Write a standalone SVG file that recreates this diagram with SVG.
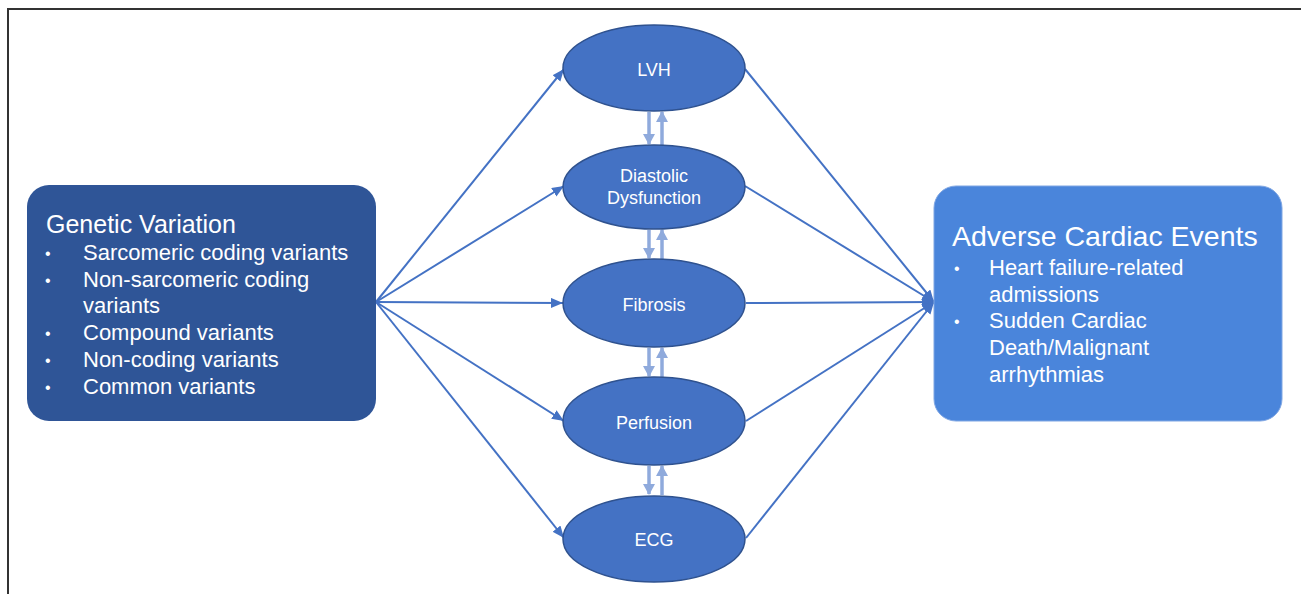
<svg xmlns="http://www.w3.org/2000/svg" width="1301" height="594" viewBox="0 0 1301 594">
<defs>
<style>
.t{font-family:"Liberation Sans",Arial,sans-serif;fill:#fff}
.ell{fill:#4472C4;stroke:#2F528F;stroke-width:1.5}
.ec{font-size:18px;text-anchor:middle}
.con{stroke:#4472C4;stroke-width:2;fill:none}
.vc{stroke:#8FAADC;stroke-width:3.5;fill:none}
.bl{font-size:22px}
.bu{font-size:16px}
</style>
<marker id="ah" markerUnits="userSpaceOnUse" markerWidth="14" markerHeight="12" refX="12" refY="5" orient="auto">
<path d="M0,0 L12,5 L0,10 Z" fill="#4472C4"/>
</marker>
<marker id="va" markerUnits="userSpaceOnUse" markerWidth="14" markerHeight="14" refX="10" refY="6" orient="auto">
<path d="M0,0 L11,6 L0,12 Z" fill="#8FAADC"/>
</marker>
</defs>
<rect width="1301" height="594" fill="#fff"/>
<path d="M8,594 V9 H1301" fill="none" stroke="#333" stroke-width="2"/>

<g id="connectors">
<line class="con" x1="376" y1="302" x2="564" y2="69" marker-end="url(#ah)"/>
<line class="con" x1="376" y1="302" x2="564" y2="186" marker-end="url(#ah)"/>
<line class="con" x1="376" y1="302" x2="563" y2="303" marker-end="url(#ah)"/>
<line class="con" x1="376" y1="302" x2="564" y2="421" marker-end="url(#ah)"/>
<line class="con" x1="376" y1="302" x2="564" y2="538" marker-end="url(#ah)"/>
<line class="con" x1="745" y1="69" x2="934" y2="302" marker-end="url(#ah)"/>
<line class="con" x1="745" y1="186" x2="934" y2="302" marker-end="url(#ah)"/>
<line class="con" x1="746" y1="303" x2="934" y2="302" marker-end="url(#ah)"/>
<line class="con" x1="746" y1="421" x2="934" y2="302" marker-end="url(#ah)"/>
<line class="con" x1="746" y1="538" x2="934" y2="302" marker-end="url(#ah)"/>
<line class="vc" x1="649" y1="112" x2="649" y2="144" marker-end="url(#va)"/>
<line class="vc" x1="662" y1="145" x2="662" y2="112" marker-end="url(#va)"/>
<line class="vc" x1="649" y1="230" x2="649" y2="258" marker-end="url(#va)"/>
<line class="vc" x1="662" y1="259" x2="662" y2="230" marker-end="url(#va)"/>
<line class="vc" x1="649" y1="348" x2="649" y2="376" marker-end="url(#va)"/>
<line class="vc" x1="662" y1="377" x2="662" y2="348" marker-end="url(#va)"/>
<line class="vc" x1="649" y1="466" x2="649" y2="494" marker-end="url(#va)"/>
<line class="vc" x1="662" y1="495" x2="662" y2="466" marker-end="url(#va)"/>
</g>

<g id="genetic">
<rect x="27" y="185" width="349" height="236" rx="22" fill="#2F5597"/>
<text class="t" x="46" y="233" font-size="25">Genetic Variation</text>
<g class="t bl">
<text class="bu" x="45" y="259">•</text><text x="83" y="260">Sarcomeric coding variants</text>
<text class="bu" x="45" y="286">•</text><text x="83" y="287">Non-sarcomeric coding</text>
<text x="83" y="313">variants</text>
<text class="bu" x="45" y="339">•</text><text x="83" y="340">Compound variants</text>
<text class="bu" x="45" y="366">•</text><text x="83" y="367">Non-coding variants</text>
<text class="bu" x="45" y="393">•</text><text x="83" y="394">Common variants</text>
</g>
</g>

<g id="adverse">
<rect x="934" y="186" width="348" height="235" rx="22" fill="#4A85DB" stroke="#7FA6E3" stroke-width="1"/>
<text class="t" x="952" y="246" font-size="28.5">Adverse Cardiac Events</text>
<g class="t bl">
<text class="bu" x="954" y="274">•</text><text x="989" y="275">Heart failure-related</text>
<text x="989" y="302">admissions</text>
<text class="bu" x="954" y="327">•</text><text x="989" y="328">Sudden Cardiac</text>
<text x="989" y="355">Death/Malignant</text>
<text x="989" y="382">arrhythmias</text>
</g>
</g>

<g id="lvh">
<ellipse class="ell" cx="654" cy="68" rx="91" ry="43"/>
<text class="t ec" x="654" y="76">LVH</text>
</g>
<g id="diastolic">
<ellipse class="ell" cx="654" cy="187" rx="91" ry="42"/>
<text class="t ec" x="654" y="182">Diastolic</text>
<text class="t ec" x="654" y="204">Dysfunction</text>
</g>
<g id="fibrosis">
<ellipse class="ell" cx="654" cy="303" rx="91" ry="44"/>
<text class="t ec" x="654" y="311">Fibrosis</text>
</g>
<g id="perfusion">
<ellipse class="ell" cx="654" cy="421" rx="91" ry="44"/>
<text class="t ec" x="654" y="429">Perfusion</text>
</g>
<g id="ecg">
<ellipse class="ell" cx="654" cy="539" rx="91" ry="43"/>
<text class="t ec" x="654" y="546">ECG</text>
</g>
</svg>
